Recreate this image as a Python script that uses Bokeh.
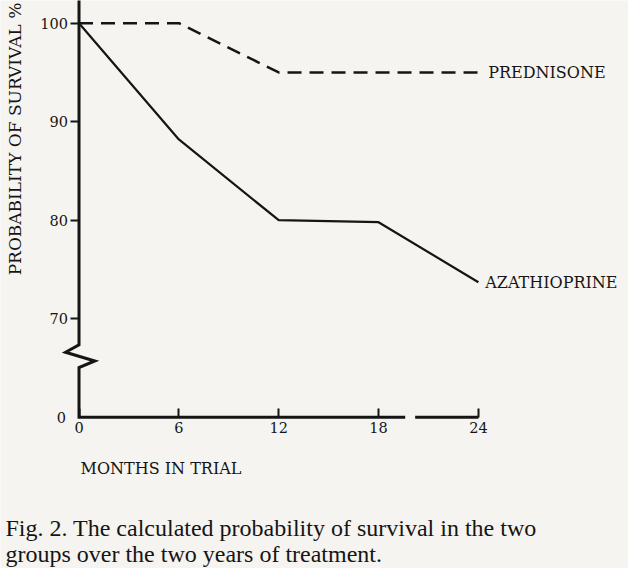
from bokeh.plotting import figure
from bokeh.models import LinearAxis, FixedTicker, Range1d, ColumnDataSource
from bokeh.core.properties import value
from bokeh.embed import file_html
from bokeh.resources import INLINE

# ---- data ----
months = [0, 6, 12, 18, 24]
prednisone = [100, 100, 95, 95, 95]
azathioprine = [100, 88.2, 80.0, 79.8, 73.7]
series_names = ["PREDNISONE", "AZATHIOPRINE"]
x_ticks = [0, 6, 12, 18, 24]
y_ticks = [70, 80, 90, 100]
y_zero_label = "0"
x_title = "MONTHS IN TRIAL"
y_title = "PROBABILITY OF SURVIVAL %"
caption_lines = ["Fig. 2. The calculated probability of survival in the two",
                 "groups over the two years of treatment."]

# ---- axis layout (broken y axis: the 0 is drawn at display level 60) ----
Y_ZERO = 60
BREAK_TOP, BREAK_BOTTOM = 67.36, 65.05
X_GAP = (19.6, 20.2)
X_RANGE = (-4.718, 33.02)
Y_RANGE = (44.65, 102.30)

INK = "#151515"
PAPER = "#f5f4f0"
SERIF = "DejaVu Serif"
CAPTION_FONT = "Liberation Serif"

p = figure(width=628, height=568,
           x_range=Range1d(*X_RANGE), y_range=Range1d(*Y_RANGE),
           x_axis_type=None, y_axis_type=None,
           output_backend="svg", toolbar_location=None,
           min_border=0, outline_line_color=None,
           background_fill_color=PAPER, border_fill_color=PAPER)
p.title.text = ""

# axis spine with zig-zag break and the small gap in the time axis
zig_x = [0, 0, -0.81, 0.95, 0, 0, X_GAP[0]]
zig_y = [Y_RANGE[1] + 1, BREAK_TOP, 66.60, 65.71, BREAK_BOTTOM, Y_ZERO, Y_ZERO]
p.line(zig_x, zig_y, line_color=INK, line_width=3, line_join="miter")
p.line([X_GAP[1], x_ticks[-1]], [Y_ZERO, Y_ZERO], line_color=INK, line_width=3)

# survival curves
src = ColumnDataSource(dict(m=months, pred=prednisone, aza=azathioprine))
p.line("m", "pred", source=src, line_color=INK, line_width=2.5, line_dash="14 8")
p.line("m", "aza", source=src, line_color=INK, line_width=2.2)

# series labels at the end of each line
lab = ColumnDataSource(dict(x=[months[-1] + 0.59, months[-1] + 0.41],
                            y=[prednisone[-1], azathioprine[-1]],
                            t=series_names))
p.text("x", "y", "t", source=lab, text_font=value(SERIF), text_font_size="16px",
       text_color=INK, text_baseline="middle", text_align="left")

# y axis ticks 70..100
ya = LinearAxis(ticker=FixedTicker(ticks=y_ticks), fixed_location=0)
# the "0" of the broken axis
yz = LinearAxis(ticker=FixedTicker(ticks=[Y_ZERO]), fixed_location=0,
                major_label_overrides={Y_ZERO: y_zero_label})
# y axis title (tick-less axis, centred on the upper part)
yt = LinearAxis(ticker=FixedTicker(ticks=[]), fixed_location=0,
                bounds=(74.2, Y_RANGE[1]), axis_label=y_title)
for ax in (ya, yz, yt):
    ax.axis_line_color = None
    ax.minor_tick_line_color = None
    ax.major_label_text_font = SERIF
    ax.major_label_text_font_size = "14.5px"
    ax.major_label_text_color = INK
ya.major_tick_out = 9
ya.major_tick_in = 0
ya.major_tick_line_width = 2
ya.major_tick_line_color = INK
ya.major_label_standoff = 2
yz.major_tick_line_color = None
yz.major_tick_out = 0
yz.major_tick_in = 0
yz.major_label_standoff = 13
yt.major_tick_out = 0
yt.major_tick_in = 0
yt.major_tick_line_color = None
yt.axis_label_text_font = SERIF
yt.axis_label_text_font_size = "17px"
yt.axis_label_text_font_style = "normal"
yt.axis_label_text_color = INK
yt.axis_label_standoff = 55
p.add_layout(ya, "left")
p.add_layout(yz, "left")
p.add_layout(yt, "left")

# x axis ticks and labels
xa = LinearAxis(ticker=FixedTicker(ticks=x_ticks), fixed_location=Y_ZERO)
xa.axis_line_color = None
xa.minor_tick_line_color = None
xa.major_tick_in = 9
xa.major_tick_out = 0
xa.major_tick_line_width = 2
xa.major_tick_line_color = INK
xa.major_label_text_font = SERIF
xa.major_label_text_font_size = "14.5px"
xa.major_label_text_color = INK
xa.major_label_standoff = 5
p.add_layout(xa, "below")

# x axis title (sits under the first months)
xt = LinearAxis(ticker=FixedTicker(ticks=[]), fixed_location=Y_ZERO,
                bounds=(0, 9.84), axis_label=x_title)
xt.axis_line_color = None
xt.major_tick_out = 0
xt.major_tick_in = 0
xt.major_tick_line_color = None
xt.minor_tick_line_color = None
xt.axis_label_text_font = SERIF
xt.axis_label_text_font_size = "16px"
xt.axis_label_text_font_style = "normal"
xt.axis_label_text_color = INK
xt.axis_label_standoff = 41
p.add_layout(xt, "below")

# figure caption
cap = ColumnDataSource(dict(x=[-4.42, -4.42], y=[48.75, 46.15], t=caption_lines))
p.text("x", "y", "t", source=cap, text_font=value(CAPTION_FONT), text_font_size="24px",
       text_color=INK, text_baseline="alphabetic", text_align="left")

open("out.html", "w").write(file_html(p, INLINE))
